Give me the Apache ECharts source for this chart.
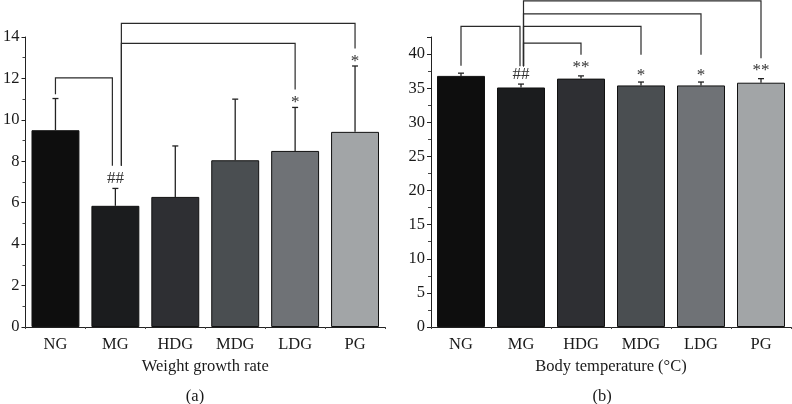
<!DOCTYPE html>
<html>
<head>
<meta charset="utf-8">
<script src="https://cdn.jsdelivr.net/npm/echarts@6/dist/echarts.min.js"></script>
<style>html,body{margin:0;padding:0;background:#fff}#c{width:792px;height:404px}</style>
</head>
<body>
<div id="c"></div>
<script>
// ---- data ----
var categories = ['NG', 'MG', 'HDG', 'MDG', 'LDG', 'PG'];
var barColors = ['#0e0e0e', '#1b1c1e', '#2e2f33', '#4a4e51', '#6f7276', '#a2a5a7'];

var weightMeans = [9.5, 5.85, 6.28, 8.05, 8.5, 9.42];
var weightErrTop = [11.03, 6.69, 8.74, 11.0, 10.6, 12.6];
var weightTicks = [0, 2, 4, 6, 8, 10, 12, 14];

var tempMeans = [36.8, 35.1, 36.4, 35.4, 35.4, 35.8];
var tempErrTop = [37.2, 35.6, 36.8, 35.9, 35.9, 36.4];
var tempTicks = [0, 5, 10, 15, 20, 25, 30, 35, 40];

// brackets: [fromCat, toCat, topY, fromLegBottomY, toLegBottomY]
var weightBrackets = [[0, 1, 12.03, 11.24, 7.78], [1, 4, 13.69, 7.78, 11.47], [1, 5, 14.66, 7.78, 13.45]];
var tempBrackets = [[0, 1, 44.05, 38.3, 38.2], [1, 2, 41.6, 38.2, 39.9], [1, 3, 44.05, 38.2, 39.9], [1, 4, 45.9, 38.2, 39.9], [1, 5, 47.8, 38.2, 39.4]];

// significance marks: [cat, y, text]
var weightMarks = [[1, 7.15, '##'], [4, 10.85, '*'], [5, 12.83, '*']];
var tempMarks = [[1, 37.0, '##'], [2, 38.0, '**'], [3, 36.85, '*'], [4, 36.85, '*'], [5, 37.55, '**']];

// ---- style ----
var FONT = '"Liberation Serif", "Times New Roman", serif';
var FS = 16.5;
var TXT = '#1a1a1a';
// pixel offsets of bracket legs (style only)
var weightLegOffsets = [[0, -3], [6, 0], [6, 0]];
var tempLegOffsets = [[0, -1], [2.5, 0], [2.5, 0], [2.5, 0], [2.5, 0]];

function barData(vals) {
  return vals.map(function (v, i) {
    return { value: v, itemStyle: { color: barColors[i] } };
  });
}
function errData(means, tops) {
  return means.map(function (m, i) { return [i, m, tops[i]]; });
}
function errRender(params, api) {
  var p1 = api.coord([api.value(0), api.value(1)]);
  var p2 = api.coord([api.value(0), api.value(2)]);
  var st = { stroke: '#222', lineWidth: 1.3 };
  return { type: 'group', children: [
    { type: 'line', shape: { x1: p1[0], y1: p1[1], x2: p2[0], y2: p2[1] }, style: st },
    { type: 'line', shape: { x1: p2[0] - 3, y1: p2[1], x2: p2[0] + 3, y2: p2[1] }, style: st }
  ]};
}
function bracketRender(offsets) {
  return function (params, api) {
    var o = offsets[params.dataIndex];
    var a = api.coord([api.value(0), api.value(3)]);
    var b = api.coord([api.value(1), api.value(4)]);
    var top = api.coord([api.value(0), api.value(2)])[1];
    return { type: 'polyline', shape: { points: [[a[0] + o[0], a[1]], [a[0] + o[0], top], [b[0] + o[1], top], [b[0] + o[1], b[1]]] },
      style: { stroke: '#2a2a2a', lineWidth: 1.2, fill: null } };
  };
}
function markRender(marks) {
  return function (params, api) {
    var p = api.coord([api.value(0), api.value(1)]);
    var t = marks[params.dataIndex][2];
    return { type: 'text', x: p[0], y: p[1], style: { text: t, fill: '#333', font: '17px ' + FONT, align: 'center', verticalAlign: 'middle' } };
  };
}

function catAxis(gi, name) {
  return {
    type: 'category', gridIndex: gi, data: categories, position: 'bottom',
    axisLine: { lineStyle: { color: '#222', width: 1 } },
    axisTick: { alignWithLabel: true, length: 4, lineStyle: { color: '#222' } },
    axisLabel: { color: TXT, fontFamily: FONT, fontSize: FS, margin: 9 },
    name: name, nameLocation: 'middle', nameGap: 28,
    nameTextStyle: { color: TXT, fontFamily: FONT, fontSize: FS }
  };
}
function boundaryAxis(gi) {
  return {
    type: 'value', gridIndex: gi, position: 'bottom', min: 0, max: categories.length, interval: 1,
    axisLine: { show: false }, axisLabel: { show: false }, splitLine: { show: false },
    axisTick: { show: true, length: 2, lineStyle: { color: '#444' } }
  };
}
function valAxis(gi, ticks, max) {
  var step = ticks[1] - ticks[0];
  return {
    type: 'value', gridIndex: gi, min: ticks[0], max: max, interval: step,
    axisLine: { show: true, lineStyle: { color: '#222', width: 1 } },
    axisTick: { show: true, length: 4, lineStyle: { color: '#222' } },
    minorTick: { show: true, splitNumber: 2, length: 3, lineStyle: { color: '#444' } },
    splitLine: { show: false },
    axisLabel: { color: TXT, fontFamily: FONT, fontSize: FS, margin: 6, showMaxLabel: ticks[ticks.length - 1] === max,
      formatter: function (v) { return ticks.indexOf(v) >= 0 ? String(v) : ''; } }
  };
}

var chart = echarts.init(document.getElementById('c'), null, { renderer: 'canvas' });
chart.setOption({
  animation: false,
  backgroundColor: '#fff',
  grid: [
    { left: 25, top: 37, width: 360, height: 290 },
    { left: 431, top: 37, width: 360, height: 290 }
  ],
  xAxis: [catAxis(0, 'Weight growth rate'), catAxis(1, 'Body temperature (°C)'), boundaryAxis(0), boundaryAxis(1)],
  yAxis: [valAxis(0, weightTicks, 14), valAxis(1, tempTicks, 42.5)],
  series: [
    { type: 'bar', xAxisIndex: 0, yAxisIndex: 0, data: barData(weightMeans), barWidth: '80%', itemStyle: { borderColor: '#111', borderWidth: 1 } },
    { type: 'bar', xAxisIndex: 1, yAxisIndex: 1, data: barData(tempMeans), barWidth: '80%', itemStyle: { borderColor: '#111', borderWidth: 1 } },
    { type: 'custom', xAxisIndex: 0, yAxisIndex: 0, data: errData(weightMeans, weightErrTop), renderItem: errRender, clip: false, z: 3 },
    { type: 'custom', xAxisIndex: 1, yAxisIndex: 1, data: errData(tempMeans, tempErrTop), renderItem: errRender, clip: false, z: 3 },
    { type: 'custom', xAxisIndex: 0, yAxisIndex: 0, data: weightMarks.map(function (m) { return [m[0], m[1]]; }), renderItem: markRender(weightMarks), clip: false, z: 4 },
    { type: 'custom', xAxisIndex: 1, yAxisIndex: 1, data: tempMarks.map(function (m) { return [m[0], m[1]]; }), renderItem: markRender(tempMarks), clip: false, z: 4 },
    { type: 'custom', xAxisIndex: 0, yAxisIndex: 0, data: weightBrackets, renderItem: bracketRender(weightLegOffsets), clip: false, z: 4,
      encode: { x: [0, 1], y: [2, 3, 4] } },
    { type: 'custom', xAxisIndex: 1, yAxisIndex: 1, data: tempBrackets, renderItem: bracketRender(tempLegOffsets), clip: false, z: 4,
      encode: { x: [0, 1], y: [2, 3, 4] } }
  ],
  graphic: [
    { type: 'text', x: 195, y: 397, style: { text: '(a)', font: FS + 'px ' + FONT, fill: TXT, align: 'center', verticalAlign: 'middle' } },
    { type: 'text', x: 602, y: 397, style: { text: '(b)', font: FS + 'px ' + FONT, fill: TXT, align: 'center', verticalAlign: 'middle' } }
  ]
});
</script>
</body>
</html>
